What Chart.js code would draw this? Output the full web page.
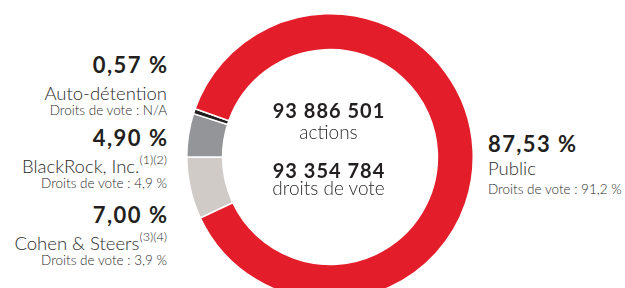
<!DOCTYPE html>
<html lang="fr">
<head>
<meta charset="utf-8">
<script src="https://cdn.jsdelivr.net/npm/chart.js@4/dist/chart.umd.min.js"></script>
<style>
  html, body { margin:0; padding:0; width:625px; height:288px; overflow:hidden; background:#fff; }
  #wrap { position:absolute; left:185.5px; top:13px; width:288px; height:288px; }
  .t { position:absolute; white-space:nowrap; line-height:1.2; font-family:Lato, "Noto Sans", sans-serif; color:#2b2b2b; font-weight:300; }
  .b { font-weight:700; color:#231f20; }
  .sup { font-size:0.68em; position:relative; top:-0.7em; }
</style>
</head>
<body>
<div id="wrap"><canvas id="c" width="288" height="288"></canvas></div>
<div id="labels"></div>
<script>
// ---- data ----
const categories = ['Cohen & Steers', 'BlackRock, Inc.', 'Auto-détention', 'Public'];
const notes = ['(3)(4)', '(1)(2)', '', ''];
const shares = [7.00, 4.90, 0.57, 87.53];           // % du capital
const votingRights = ['3,9 %', '4,9 %', 'N/A', '91,2 %'];
const totals = ['93 886 501', '93 354 784'];
const totalLabels = ['actions', 'droits de vote'];
const colors = ['#d1cbc8', '#939598', '#231f20', '#e31e2a'];

// ---- chart ----
new Chart(document.getElementById('c'), {
  type: 'doughnut',
  data: {
    labels: categories,
    datasets: [{ data: shares, backgroundColor: colors, borderColor: '#ffffff', borderWidth: 1.5, hoverOffset: 0 }]
  },
  options: {
    responsive: false,
    animation: false,
    cutout: '75%',
    rotation: 270 - shares[0] * 3.6,
    layout: { padding: 0 },
    plugins: { legend: { display: false }, tooltip: { enabled: false } }
  }
});

// ---- text ----
const L = document.getElementById('labels');
function place(html, x, baseline, size, bold, align, ls) {
  const d = document.createElement('div');
  d.className = 't' + (bold ? ' b' : '');
  d.style.fontSize = size + 'px';
  if (ls) d.style.letterSpacing = ls + 'px';
  d.style.top = (baseline - 0.987 * size) + 'px';
  if (align === 'right') d.style.right = (625 - x - (ls || 0)) + 'px';
  else if (align === 'center') { d.style.left = (x - 150 + (ls || 0) / 2) + 'px'; d.style.width = '300px'; d.style.textAlign = 'center'; }
  else d.style.left = x + 'px';
  d.innerHTML = html;
  L.appendChild(d);
}
const fmt = v => v.toFixed(2).replace('.', ',') + '\u00a0%';
const nb = s => s.replace(/ /g, '\u00a0');

// left block: Auto-détention, BlackRock, Cohen & Steers (top to bottom)
const leftOrder = [2, 1, 0];
const leftBase = [74, 147, 224];
leftOrder.forEach((i, k) => {
  const b = leftBase[k];
  place(fmt(shares[i]), 167, b, 22, true, 'right', 1.5);
  place(categories[i] + (notes[i] ? '<span class="sup">' + notes[i] + '</span>' : ''), 167, b + 26, 18.5, false, 'right');
  place('Droits de vote\u00a0: ' + votingRights[i], 167, b + 41, 13.5, false, 'right');
});
// right block: Public
place(fmt(shares[3]), 488, 153, 22, true, 'left', 1.4);
place(categories[3], 488, 175, 18.5, false, 'left');
place('Droits de vote\u00a0: ' + votingRights[3], 488, 194, 13.5, false, 'left');

// centre
place(nb(totals[0]), 328.5, 118, 20, true, 'center', 1);
place(totalLabels[0], 328.5, 140, 19, false, 'center');
place(nb(totals[1]), 328.5, 178, 20, true, 'center', 1);
place(totalLabels[1], 328.5, 196, 19, false, 'center');
</script>
</body>
</html>
